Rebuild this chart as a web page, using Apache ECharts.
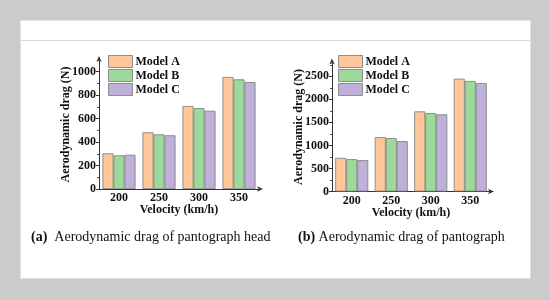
<!DOCTYPE html>
<html lang="en">
<head>
    <meta charset="UTF-8">
    <title>drag</title>
    <script src="https://cdn.jsdelivr.net/npm/echarts@6/dist/echarts.min.js"></script>
    <style>
        html, body { margin: 0; padding: 0; }
        #main { width: 550px; height: 300px; }
    </style>
</head>
<body>
<div id="main"></div>
<script type="text/javascript">
    // velocity categories
    var categories = ['200', '250', '300', '350'];
    var modelNames = ['Model A', 'Model B', 'Model C'];

    // (a) pantograph head drag (N)
    var headA = [304, 483, 708, 955];
    var headB = [287, 466, 690, 935];
    var headC = [292, 458, 667, 912];
    var headTicks = [0, 200, 400, 600, 800, 1000];

    // (b) pantograph drag (N)
    var pantoA = [730, 1180, 1739, 2448];
    var pantoB = [702, 1159, 1702, 2398];
    var pantoC = [680, 1093, 1674, 2354];
    var pantoTicks = [0, 500, 1000, 1500, 2000, 2500];

    var serif = "'Liberation Serif', 'Times New Roman', serif";
    var colors = ['#ffc699', '#9dd99b', '#bfb0da'];

    function xAxisOf(idx) {
        return {
            type: 'category', gridIndex: idx, data: categories,
            name: 'Velocity (km/h)', nameLocation: 'middle', nameGap: 15, nameMoveOverlap: false,
            nameTextStyle: { fontFamily: serif, fontWeight: 'bold', fontSize: 12, color: '#111' },
            axisLine: { lineStyle: { color: '#333', width: 1 }, symbol: ['none', 'arrow'], symbolSize: [4, 6], symbolOffset: [0, 4] },
            axisTick: { show: false },
            axisLabel: { fontFamily: serif, fontWeight: 'bold', fontSize: 12, color: '#111', margin: 3 }
        };
    }

    function yAxisOf(idx, max, ticks) {
        return {
            type: 'value', gridIndex: idx, min: 0, max: max,
            name: 'Aerodynamic drag (N)', nameLocation: 'middle', nameGap: 27, nameMoveOverlap: false,
            nameTextStyle: { fontFamily: serif, fontWeight: 'bold', fontSize: 12, color: '#111' },
            axisLine: { show: true, lineStyle: { color: '#333', width: 1 }, symbol: ['none', 'arrow'], symbolSize: [4, 6], symbolOffset: [0, 4] },
            axisTick: { show: true, length: 3, customValues: ticks, lineStyle: { color: '#333' } },
            minorTick: { show: true, splitNumber: 2, length: 2, lineStyle: { color: '#555' } },
            splitLine: { show: false },
            axisLabel: {
                fontFamily: serif, fontWeight: 'bold', fontSize: 12, color: '#111', margin: 3,
                customValues: ticks,
                formatter: function (v) { return String(v); }
            }
        };
    }

    function barOf(name, idx, data, color) {
        return {
            name: name, type: 'bar', xAxisIndex: idx, yAxisIndex: idx, data: data,
            barWidth: 11, barGap: '0%',
            itemStyle: { color: color, borderColor: '#7a7a7a', borderWidth: 0.8 }
        };
    }

    function legendOf(left) {
        return {
            orient: 'vertical', left: left, top: 55, itemWidth: 24, itemHeight: 12, itemGap: 1,
            padding: 0, selectedMode: false, icon: 'rect',
            data: modelNames,
            itemStyle: { borderColor: '#8c8c8c', borderWidth: 1 },
            textStyle: { fontFamily: serif, fontWeight: 'bold', fontSize: 12, color: '#111', padding: [0, 0, 0, -2] }
        };
    }

    var myChart = echarts.init(document.getElementById('main'));

    var option = {
        animation: false,
        backgroundColor: '#cbcbcb',
        color: colors,
        graphic: [
            { type: 'rect', z: -10, shape: { x: 20.5, y: 20.5, width: 510, height: 258 }, style: { fill: '#fff', stroke: '#e2e2e2', lineWidth: 1 } },
            { type: 'line', z: -9, shape: { x1: 21, y1: 40.5, x2: 530, y2: 40.5 }, style: { stroke: '#d9d9d9', lineWidth: 1 } },
            {
                type: 'text', left: 31, top: 230,
                style: {
                    text: '{b|(a)}  Aerodynamic drag of pantograph head',
                    fontFamily: serif, fontSize: 14, fill: '#111',
                    rich: { b: { fontFamily: serif, fontSize: 14, fontWeight: 'bold', fill: '#111' } }
                }
            },
            {
                type: 'text', left: 298, top: 230,
                style: {
                    text: '{b|(b)} Aerodynamic drag of pantograph',
                    fontFamily: serif, fontSize: 14, fill: '#111',
                    rich: { b: { fontFamily: serif, fontSize: 14, fontWeight: 'bold', fill: '#111' } }
                }
            }
        ],
        legend: [legendOf(108), legendOf(338)],
        grid: [
            { left: 99, top: 60, width: 160, height: 129 },
            { left: 332, top: 62.5, width: 158, height: 129 }
        ],
        xAxis: [xAxisOf(0), xAxisOf(1)],
        yAxis: [yAxisOf(0, 1100, headTicks), yAxisOf(1, 2800, pantoTicks)],
        series: [
            barOf(modelNames[0], 0, headA, colors[0]),
            barOf(modelNames[1], 0, headB, colors[1]),
            barOf(modelNames[2], 0, headC, colors[2]),
            barOf(modelNames[0], 1, pantoA, colors[0]),
            barOf(modelNames[1], 1, pantoB, colors[1]),
            barOf(modelNames[2], 1, pantoC, colors[2])
        ]
    };

    myChart.setOption(option);
</script>
</body>
</html>
